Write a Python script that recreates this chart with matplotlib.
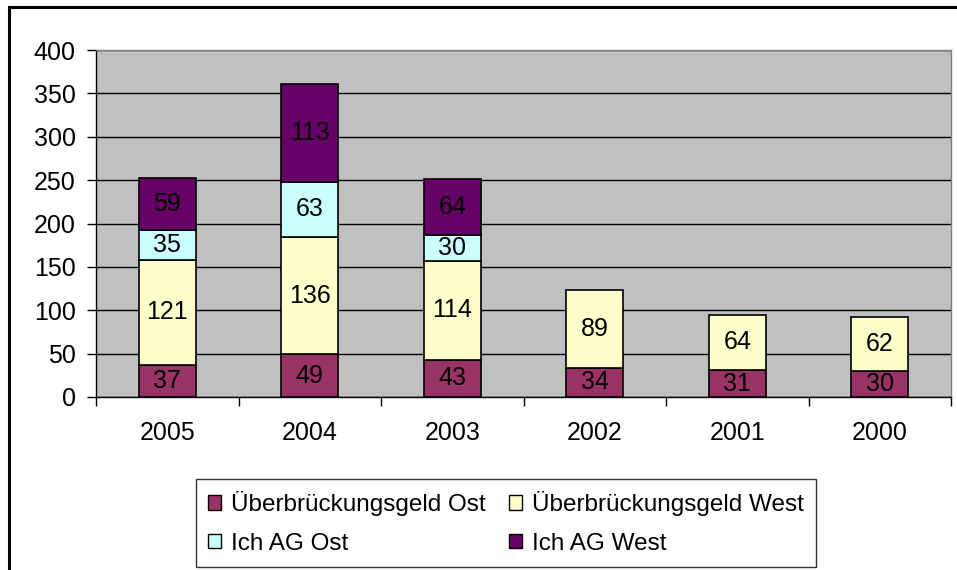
import matplotlib
matplotlib.use("Agg")
import matplotlib.pyplot as plt
from matplotlib.patches import Rectangle, Patch
import numpy as np

plt.rcParams['font.family'] = ['Liberation Sans', 'DejaVu Sans']

years = ["2005", "2004", "2003", "2002", "2001", "2000"]
ueb_ost = [37, 49, 43, 34, 31, 30]
ueb_west = [121, 136, 114, 89, 64, 62]
ich_ost = [35, 63, 30, 0, 0, 0]
ich_west = [59, 113, 64, 0, 0, 0]
series_names = ["Überbrückungsgeld Ost", "Überbrückungsgeld West", "Ich AG Ost", "Ich AG West"]
colors = ["#993366", "#FFFFCC", "#CCFFFF", "#660066"]
yticks = [0, 50, 100, 150, 200, 250, 300, 350, 400]

W, H = 957, 570
fig = plt.figure(figsize=(W/100, H/100), dpi=100)
fig.patch.set_facecolor("white")

# outer chart frame (cropped on right/bottom)
fig.add_artist(Rectangle((9/W, -0.1), 1.2, (H-7)/H + 0.1, transform=fig.transFigure,
                         fill=False, edgecolor="black", linewidth=2.2))

L, R, T, B = 96, 951, 50, 397
ax = fig.add_axes([L/W, (H-B)/H, (R-L)/W, (B-T)/H])
ax.set_facecolor("#C0C0C0")

x = np.arange(len(years))
bw = 0.4
bottom = np.zeros(len(years))
series = [ueb_ost, ueb_west, ich_ost, ich_west]
fs = 18
for vals, c in zip(series, colors):
    vals = np.array(vals, dtype=float)
    mask = vals > 0
    ax.bar(x[mask], vals[mask], bw, bottom=bottom[mask], color=c, edgecolor="black",
           linewidth=1.2, zorder=3)
    for xi, v, b0 in zip(x[mask], vals[mask], bottom[mask]):
        ax.text(xi, b0 + v/2, f"{int(v)}", ha="center", va="center", fontsize=fs,
                color="black", zorder=4)
    bottom += vals

ax.set_xlim(-0.5, len(years) - 0.5)
ax.set_ylim(0, 400)
ax.set_yticks(yticks)
ax.set_yticklabels([str(t) for t in yticks], fontsize=fs)
ax.yaxis.grid(True, color="black", linewidth=1.0, zorder=1)
ax.set_axisbelow(True)
ax.set_xticks(x)
ax.set_xticklabels(years, fontsize=fs)
ax.tick_params(axis="x", length=0, pad=17)
ax.set_xticks(np.arange(-0.5, len(years)), minor=True)
ax.tick_params(axis="x", which="minor", length=6.5, width=1, direction="out")
ax.tick_params(axis="y", length=6.5, width=1, direction="out", pad=8)
for s in ["top", "right"]:
    ax.spines[s].set_color("#808080")
    ax.spines[s].set_linewidth(1)
for s in ["left", "bottom"]:
    ax.spines[s].set_color("black")
    ax.spines[s].set_linewidth(1)

handles = [Patch(facecolor=c, edgecolor="black", linewidth=1) for c in colors]
order = [0, 2, 1, 3]  # row-major fill
leg = fig.legend([handles[i] for i in order], [series_names[i] for i in order],
                 loc="upper left", bbox_to_anchor=(196/W, (H-479)/H),
                 ncol=2, fontsize=17.5, frameon=True, fancybox=False,
                 edgecolor="black", handlelength=0.52, handleheight=0.52,
                 handletextpad=0.4, borderaxespad=0, borderpad=0.5, labelspacing=0.68,
                 columnspacing=1.0)
leg.get_frame().set_linewidth(1)

fig.savefig("out.png", dpi=100)
